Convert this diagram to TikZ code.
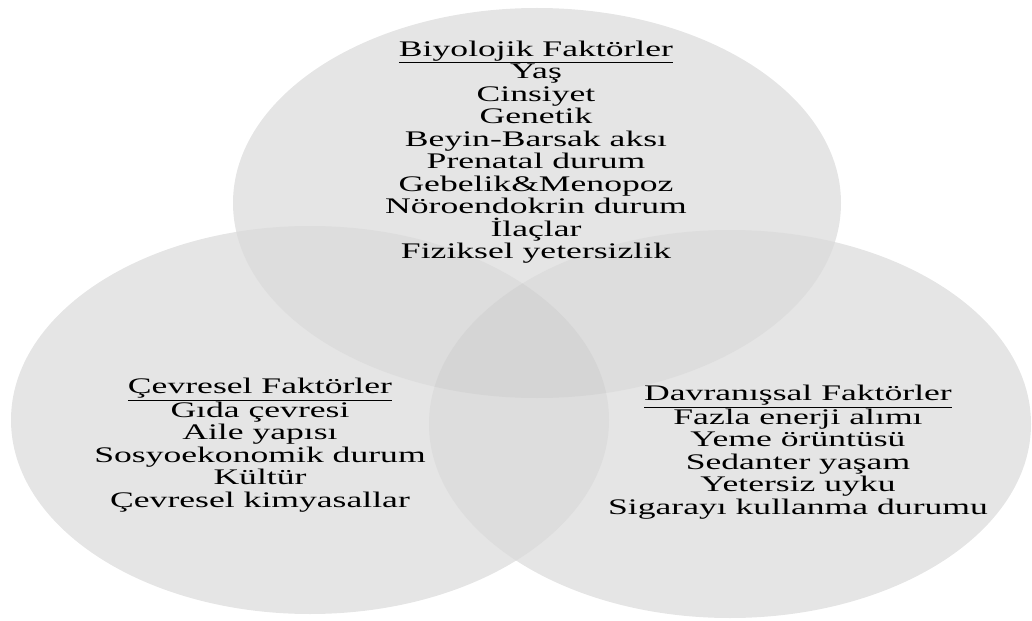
\documentclass[tikz,border=0pt]{standalone}
\usepackage{fontspec}
\setmainfont{Liberation Serif}
\usetikzlibrary{positioning}
\definecolor{cOne}{gray}{0.90}
\definecolor{cTwo}{gray}{0.865}
\definecolor{cThree}{gray}{0.835}
\tikzset{
  factortext/.style={
    align=center, inner sep=0pt, anchor=north,
    xscale=1.6, font=\fontsize{19}{19.2}\selectfont,
  },
}
\newcommand{\bioarea}{(537,203) ellipse [x radius=304, y radius=195]}
\newcommand{\envarea}{(310,420) ellipse [x radius=299, y radius=194]}
\newcommand{\behavarea}{(730,424) ellipse [x radius=301, y radius=194]}

\begin{document}
\begin{tikzpicture}[x=0.03cm, y=-0.03cm]
  \useasboundingbox (0,0) rectangle (1032,621);

  % the three sets
  \fill[cOne] \bioarea;
  \fill[cOne] \envarea;
  \fill[cOne] \behavarea;

  % pairwise overlaps
  \begin{scope}
    \clip \bioarea;
    \fill[cTwo] \envarea;
    \fill[cTwo] \behavarea;
  \end{scope}
  \begin{scope}
    \clip \envarea;
    \fill[cTwo] \behavarea;
  \end{scope}

  % centre
  \begin{scope}
    \clip \bioarea;
    \clip \envarea;
    \fill[cThree] \behavarea;
  \end{scope}

  % texts
  \node[factortext] (bio) at (536,40.5)
    {\underline{Biyolojik Faktörler}\\Yaş\\Cinsiyet\\Genetik\\Beyin-Barsak aksı\\
     Prenatal durum\\Gebelik\&Menopoz\\Nöroendokrin durum\\İlaçlar\\Fiziksel yetersizlik};
  \node[factortext] (env) at (260,378)
    {\underline{Çevresel Faktörler}\\Gıda çevresi\\Aile yapısı\\Sosyoekonomik durum\\
     Kültür\\Çevresel kimyasallar};
  \node[factortext] (behav) at (798,385)
    {\underline{Davranışsal Faktörler}\\Fazla enerji alımı\\Yeme örüntüsü\\Sedanter yaşam\\
     Yetersiz uyku\\Sigarayı kullanma durumu};

\end{tikzpicture}
\end{document}
